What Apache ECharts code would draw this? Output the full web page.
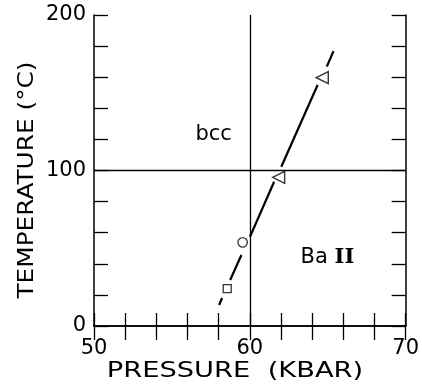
<!DOCTYPE html>
<html>
<head>
<meta charset="utf-8">
<script src="https://cdn.jsdelivr.net/npm/echarts@6/dist/echarts.min.js"></script>
<style>
html,body{margin:0;padding:0;background:#fff;}
#chart{width:422px;height:387px;}
</style>
</head>
<body>
<div id="chart"></div>
<script>
// ---- data ----
const xLabelValues = [50, 60, 70];
const yLabelValues = [0, 100, 200];
const squarePoints = [[58.55, 24.0]];
const circlePoints = [[59.54, 53.8]];
const trianglePoints = [[61.85, 95.6], [64.65, 159.7]];
const boundarySegments = [
  [[58.03, 13.5], [58.22, 18.0]],
  [[58.74, 29.6], [59.46, 45.7]],
  [[60.01, 57.4], [61.56, 92.8]],
  [[62.02, 102.4], [64.35, 155.0]],
  [[64.94, 166.8], [65.37, 176.8]]
];
const refPressure = 60;
const refTemperature = 100;
const phaseLabels = [
  {name: 'bcc', value: [57.68, 122.8]},
  {name: 'Ba II', value: [64.98, 43.7]}
];

const FONT = '"DejaVu Sans", sans-serif';
const chart = echarts.init(document.getElementById('chart'), null, {renderer: 'canvas'});

const axisCommon = {
  type: 'value',
  axisLine: {show: true, lineStyle: {color: '#000', width: 1.5}},
  splitLine: {show: false},
  minorTick: {show: false}
};

const series = [];
boundarySegments.forEach(seg => {
  series.push({
    type: 'line', data: seg, symbol: 'none', silent: true,
    lineStyle: {color: '#000', width: 2.2}, z: 3
  });
});
series.push({
  type: 'line', data: [], symbol: 'none', silent: true,
  markLine: {
    symbol: 'none', silent: true, label: {show: false},
    lineStyle: {color: '#000', width: 1.3, type: 'solid'},
    data: [{xAxis: refPressure}, {yAxis: refTemperature}]
  }
});
series.push({
  type: 'scatter', data: squarePoints, symbol: 'rect', symbolSize: 8,
  itemStyle: {color: '#fff', borderColor: '#000', borderWidth: 1.3}, z: 5
});
series.push({
  type: 'scatter', data: circlePoints, symbol: 'circle', symbolSize: 9.5,
  itemStyle: {color: '#fff', borderColor: '#000', borderWidth: 1.3}, z: 5
});
series.push({
  type: 'scatter', data: trianglePoints, symbol: 'triangle', symbolSize: 12, symbolRotate: 90,
  itemStyle: {color: '#fff', borderColor: '#000', borderWidth: 1.4}, z: 5
});
series.push({
  type: 'scatter', data: phaseLabels, symbolSize: 0, silent: true,
  itemStyle: {color: '#000', opacity: 1},
  label: {
    show: true, position: 'inside', color: '#000', textBorderWidth: 0, opacity: 1,
    formatter: p => p.name === 'Ba II' ? '{a|Ba }{b|II}' : '{a|' + p.name + '}',
    rich: {
      a: {fontFamily: FONT, fontSize: 21, color: '#000', textBorderWidth: 0},
      b: {fontFamily: '"DejaVu Serif", serif', fontSize: 21, fontWeight: 'bold', color: '#000', textBorderWidth: 0}
    }
  }
});

chart.setOption({
  animation: false,
  backgroundColor: '#fff',
  grid: {left: 94, right: 13, top: 15, bottom: 61},
  xAxis: [
    Object.assign({}, axisCommon, {
      position: 'bottom', min: 50, max: 70, interval: 2,
      axisTick: {show: true, inside: true, length: 13, lineStyle: {color: '#000', width: 1.3}},
      axisLabel: {
        show: true, margin: 12, color: '#000', fontFamily: FONT, fontSize: 21,
        formatter: v => xLabelValues.indexOf(v) >= 0 ? String(v) : ''
      }
    }),
    Object.assign({}, axisCommon, {
      position: 'top', min: 50, max: 70, interval: 2,
      axisTick: {show: true, inside: true, length: 14, lineStyle: {color: '#000', width: 1.3}},
      axisLabel: {show: false}
    })
  ],
  yAxis: [
    Object.assign({}, axisCommon, {
      position: 'left', min: 0, max: 200, interval: 20,
      axisTick: {show: true, inside: true, length: 14, lineStyle: {color: '#000', width: 1.3}},
      axisLabel: {
        show: true, margin: 8, color: '#000', fontFamily: FONT, fontSize: 21,
        formatter: v => yLabelValues.indexOf(v) >= 0 ? String(v) : ''
      }
    }),
    Object.assign({}, axisCommon, {
      position: 'right', min: 0, max: 200, interval: 20,
      axisTick: {show: true, inside: true, length: 14, lineStyle: {color: '#000', width: 1.3}},
      axisLabel: {show: false}
    })
  ],
  graphic: [
    {
      type: 'text', x: 235, y: 372, scaleX: 1.3, silent: true,
      style: {text: 'PRESSURE  (KBAR)', font: '21px ' + FONT, fill: '#000', textAlign: 'center', textVerticalAlign: 'middle'}
    },
    {
      type: 'text', x: 28, y: 180, rotation: Math.PI / 2, scaleX: 1.18, silent: true,
      style: {text: 'TEMPERATURE (°C)', font: '21px ' + FONT, fill: '#000', textAlign: 'center', textVerticalAlign: 'middle'}
    }
  ],
  series: series
});
</script>
</body>
</html>
